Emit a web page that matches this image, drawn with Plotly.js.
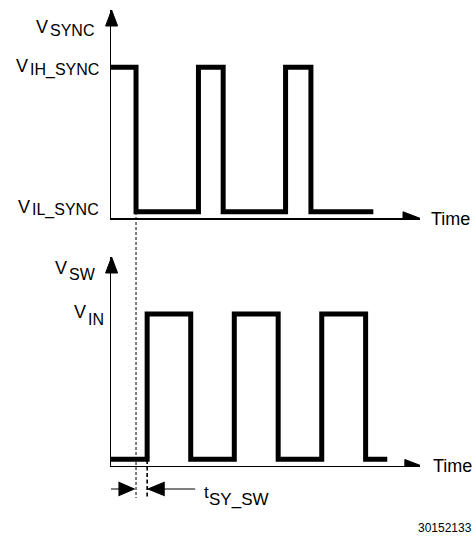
<!DOCTYPE html>
<html>
<head>
<meta charset="utf-8">
<script src="https://cdn.plot.ly/plotly-3.0.1.min.js"></script>
<style>html,body{margin:0;padding:0;background:#fff;}#chart{width:474px;height:537px;}</style>
</head>
<body>
<div id="chart"></div>
<script>
// ---- data (time in arbitrary units, levels: 0 = low, 1 = high) ----
const syncTime  = [0, 8.1, 28.3, 36.3, 56.5, 64.7, 84.9];
const syncLevel = [1, 0, 1, 0, 1, 0, 0];
const swTime    = [0, 11.7, 25.8, 39.9, 54.1, 68.2, 82.4, 89.4];
const swLevel   = [0, 1, 0, 1, 0, 1, 0, 0];
const timeRange = [0, 100];
const levelRangeTop = [-0.046, 1.397];
const levelRangeBot = [-0.046, 1.392];

// ---- layout helpers (pixel -> paper) ----
const W = 474, H = 537;
const px = x => x / W;
const py = y => 1 - y / H;
const FONT = 'Liberation Sans, Arial, sans-serif';

const traces = [
  {x: syncTime, y: syncLevel, xaxis: 'x', yaxis: 'y', mode: 'lines',
   line: {shape: 'hv', color: '#000', width: 5}, hoverinfo: 'skip'},
  {x: swTime, y: swLevel, xaxis: 'x2', yaxis: 'y2', mode: 'lines',
   line: {shape: 'hv', color: '#000', width: 5}, hoverinfo: 'skip'}
];

function label(text, xl, yc, size) {
  return {text: text, xref: 'paper', yref: 'paper', x: px(xl), y: py(yc),
          xanchor: 'left', yanchor: 'middle', showarrow: false, borderpad: 0,
          font: {family: FONT, size: size, color: '#000'}};
}

const annotations = [
  label('V', 35, 27.5, 18), label('SYNC', 49, 31, 16),
  label('V', 15, 66, 18), label('IH_SYNC', 29, 69.5, 16),
  label('V', 17, 206.5, 18), label('IL_SYNC', 31, 210, 16),
  label('V', 54, 267.5, 18), label('SW', 67.5, 274, 16),
  label('V', 73, 311.7, 18), label('IN', 86.5, 319, 16),
  label('t', 203, 492, 17), label('SY_SW', 207.5, 499, 17),
  label('Time', 430, 218.5, 18), label('Time', 432, 466, 18),
  label('30152133', 417, 528, 12)
];

const headPath = {
  up: 'M0,0 L-6,-16 L6,-16 Z',
  right: 'M0,0 L-17,6.5 L-17,-6.5 Z'
};
function head(xref, yref, xa, ya, path) {
  return {type: 'path', xref: xref, yref: yref, xsizemode: 'pixel', ysizemode: 'pixel',
          xanchor: xa, yanchor: ya, path: path,
          fillcolor: '#000', line: {color: '#000', width: 1}};
}

const shapes = [
  // axis arrowheads
  head('paper', 'paper', px(111.6), py(10), headPath.up),
  head('x', 'y', timeRange[1], levelRangeTop[0], headPath.right),
  head('paper', 'paper', px(111.6), py(257), headPath.up),
  head('x2', 'y2', timeRange[1] + 0.6, levelRangeBot[0], headPath.right),
  // dashed timing markers
  {type: 'line', xref: 'x', yref: 'paper', x0: syncTime[1], x1: syncTime[1],
   y0: py(212), y1: py(498), line: {color: '#000', width: 1, dash: '3px,2px'}},
  {type: 'line', xref: 'x2', yref: 'paper', x0: swTime[1], x1: swTime[1],
   y0: py(460), y1: py(498), line: {color: '#000', width: 1.6, dash: '4px,2.5px'}},
  // t_SY_SW dimension arrows
  {type: 'path', xref: 'x', yref: 'paper', xsizemode: 'pixel', ysizemode: 'pixel',
   xanchor: syncTime[1], yanchor: py(489),
   path: 'M-44,0 L-17,0 M-17,-6.5 L-2,0 L-17,6.5 Z',
   fillcolor: '#000', line: {color: '#000', width: 1.2}},
  {type: 'path', xref: 'x2', yref: 'paper', xsizemode: 'pixel', ysizemode: 'pixel',
   xanchor: swTime[1], yanchor: py(489),
   path: 'M48,0 L17,0 M17,-6.5 L1,0 L17,6.5 Z',
   fillcolor: '#000', line: {color: '#000', width: 1.2}}
];

const axisCommon = {showgrid: false, zeroline: false, showticklabels: false, ticks: '',
                    showline: true, linecolor: '#000', linewidth: 1.2, fixedrange: true};

const layout = {
  width: W, height: H,
  margin: {l: 0, r: 0, t: 0, b: 0, pad: 0},
  paper_bgcolor: '#fff', plot_bgcolor: 'rgba(0,0,0,0)',
  showlegend: false,
  xaxis: Object.assign({}, axisCommon, {domain: [px(111), px(420)], range: timeRange, anchor: 'y'}),
  yaxis: Object.assign({}, axisCommon, {domain: [py(218.3), py(10)], range: levelRangeTop, anchor: 'x'}),
  xaxis2: Object.assign({}, axisCommon, {domain: [px(111), px(420)], range: timeRange, anchor: 'y2'}),
  yaxis2: Object.assign({}, axisCommon, {domain: [py(466), py(257)], range: levelRangeBot, anchor: 'x2'}),
  annotations: annotations,
  shapes: shapes
};

Plotly.newPlot('chart', traces, layout, {staticPlot: true, displayModeBar: false});
</script>
</body>
</html>
